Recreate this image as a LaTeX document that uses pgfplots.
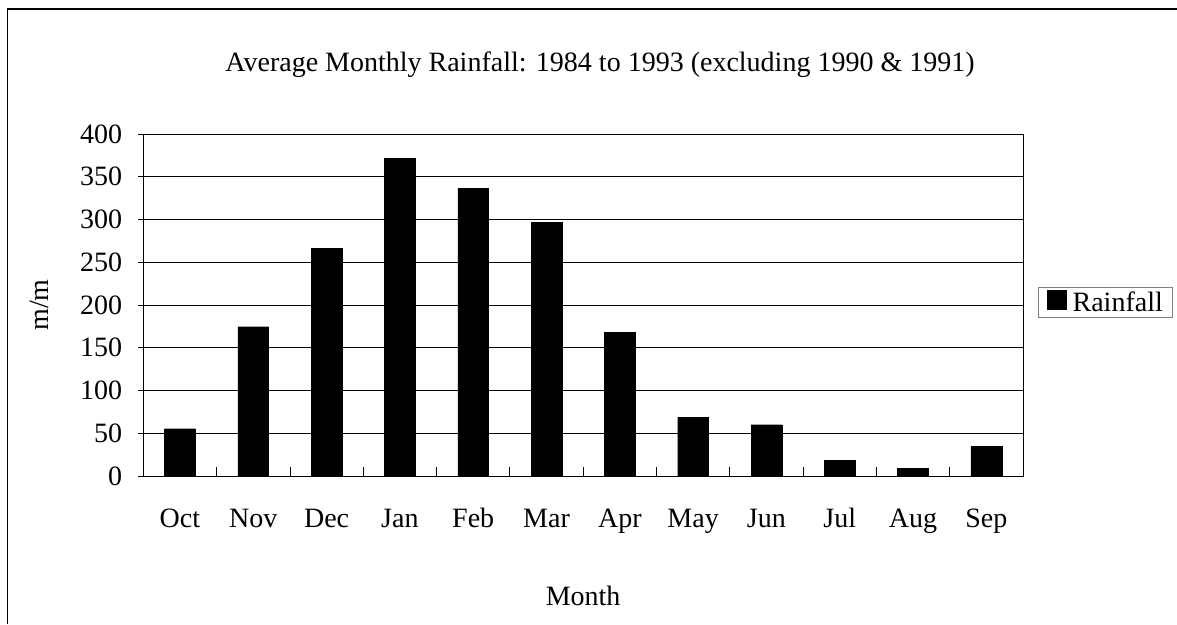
\documentclass[border=0pt]{standalone}
\usepackage{fontspec}
\setmainfont{Liberation Serif}
\usepackage{pgfplots}
\pgfplotsset{compat=1.18}
\begin{document}
\begin{tikzpicture}
\useasboundingbox (0pt,0pt) rectangle (1177pt,624pt);
\fill[white] (0pt,0pt) rectangle (1177pt,624pt);
\draw[line width=1.2pt] (7.5pt,0pt) -- (7.5pt,615pt) -- (1177pt,615pt);
\begin{axis}[
  at={(143.3pt,148pt)}, anchor=south west,
  scale only axis, width=879.7pt, height=342pt,
  xmin=-0.5, xmax=11.5, ymin=0, ymax=400,
  ytick={0,50,...,400},
  xtick={0,...,11},
  xticklabels={Oct,Nov,Dec,Jan,Feb,Mar,Apr,May,Jun,Jul,Aug,Sep},
  minor xtick={0.5,1.5,...,10.5},
  tick pos=left,
  tick align=inside,
  major x tick style={draw=none},
  minor x tick style={draw=black, line width=0.8pt},
  minor tick length=9pt,
  y tick style={draw=black, line width=0.8pt, xshift=-5pt},
  major tick length=5pt,
  ymajorgrids,
  grid style={black, line width=0.8pt},
  axis line style={line width=0.9pt},
  /pgf/number format/assume math mode=true,
  tick label style={font=\fontsize{28}{33}\selectfont},
  yticklabel style={anchor=east, inner sep=0pt, xshift=-21pt},
  xticklabel style={anchor=base, inner sep=0pt, yshift=-51pt},
  ylabel={m/m},
  xlabel={Month},
  label style={font=\fontsize{28}{33}\selectfont},
  ylabel style={at={(axis description cs:-0.118,0.5)}, anchor=center, rotate=0},
  xlabel style={at={(axis description cs:0.5,-0.38)}, anchor=base},
  legend style={at={(axis description cs:1.0175,0.552)}, anchor=north west,
    draw=gray, line width=0.8pt, font=\fontsize{28}{33}\selectfont,
    inner xsep=8pt, inner ysep=2.5pt},
  legend image code/.code={\fill[black] (0pt,-7pt) rectangle (19pt,12pt);},
]
\addplot[ybar, bar width=0.42, fill=black, draw=black] coordinates {
(0,55.3) (1,174.6) (2,265.9) (3,371.9) (4,336.8) (5,297)
(6,168.4) (7,68.6) (8,60) (9,18.7) (10,9) (11,34.7)};
\addlegendentry{\hspace{4pt}Rainfall\hspace{8pt}}
\end{axis}
\node[anchor=base, font=\fontsize{28}{33}\selectfont] at (600pt,552pt) {Average Monthly Rainfall: 1984 to 1993 (excluding 1990 \& 1991)};
\end{tikzpicture}
\end{document}
